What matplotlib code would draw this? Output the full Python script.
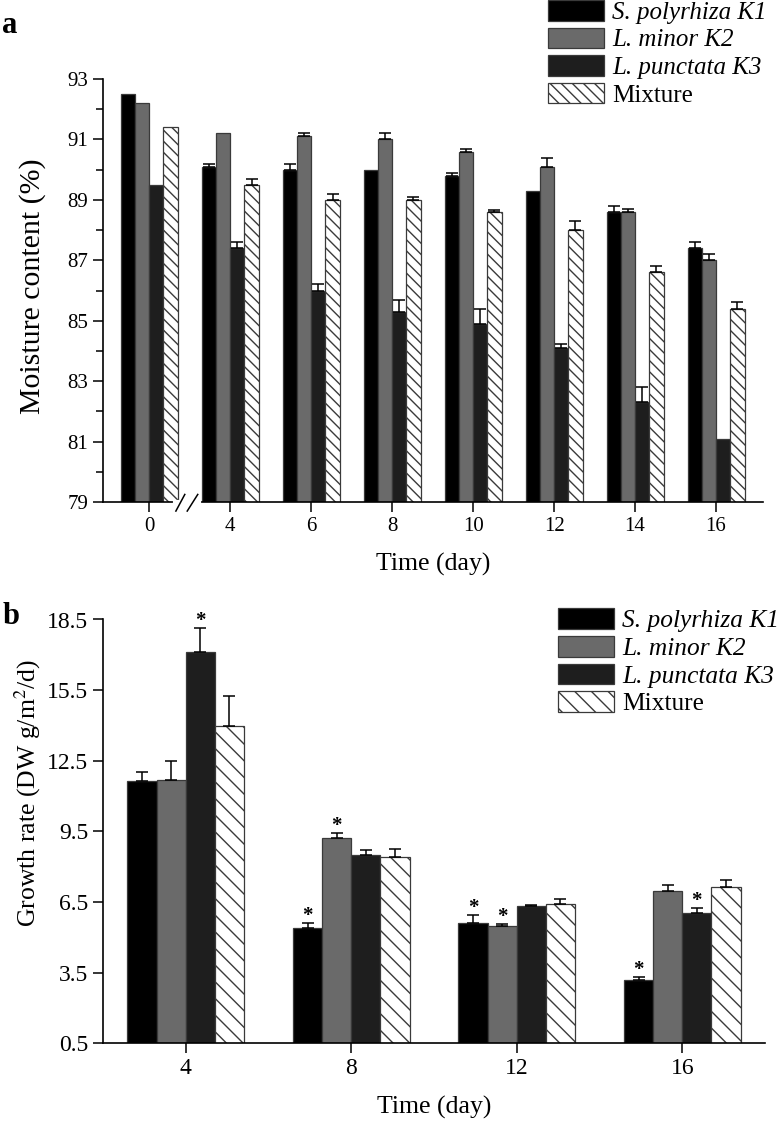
"""
Moisture content and growth rate of three duckweed strains and their mixture,
drawn as grouped bar charts with one-sided error bars.
"""

import numpy as np
import matplotlib.pyplot as plt
from matplotlib.ticker import MultipleLocator

plt.rcParams['font.family'] = ['Liberation Serif', 'DejaVu Serif']
plt.rcParams['mathtext.fontset'] = 'stix'

SERIES = ['S. polyrhiza K1', 'L. minor K2', 'L. punctata K3', 'Mixture']

# panel a: moisture content (%)
days_a = ['0', '4', '6', '8', '10', '12', '14', '16']
moist_k1 = [92.5, 90.1, 90.0, 90.0, 89.8, 89.3, 88.6, 87.4]
moist_k2 = [92.2, 91.2, 91.1, 91.0, 90.6, 90.1, 88.6, 87.0]
moist_k3 = [89.5, 87.4, 86.0, 85.3, 84.9, 84.1, 82.3, 81.1]
moist_mix = [91.4, 89.5, 89.0, 89.0, 88.6, 88.0, 86.6, 85.4]
moist_err_k1 = [0.0, 0.1, 0.2, 0.0, 0.1, 0.0, 0.2, 0.2]
moist_err_k2 = [0.0, 0.0, 0.1, 0.2, 0.08, 0.3, 0.1, 0.2]
moist_err_k3 = [0.0, 0.2, 0.2, 0.4, 0.5, 0.12, 0.5, 0.0]
moist_err_mix = [0.0, 0.2, 0.2, 0.1, 0.08, 0.3, 0.2, 0.22]
moist_ticks = [79, 81, 83, 85, 87, 89, 91, 93]

# panel b: growth rate (DW g/m2/d)
days_b = ['4', '8', '12', '16']
growth_k1 = [11.65, 5.4, 5.63, 3.19]
growth_k2 = [11.7, 9.22, 5.47, 6.98]
growth_k3 = [17.13, 8.48, 6.34, 6.02]
growth_mix = [13.97, 8.41, 6.42, 7.12]
growth_err_k1 = [0.37, 0.2, 0.33, 0.11]
growth_err_k2 = [0.77, 0.2, 0.11, 0.26]
growth_err_k3 = [1.0, 0.21, 0.05, 0.21]
growth_err_mix = [1.28, 0.36, 0.21, 0.31]
growth_ticks = [0.5, 3.5, 6.5, 9.5, 12.5, 15.5, 18.5]
# (series index, group index) pairs marked with an asterisk
stars_b = [(2, 0), (0, 1), (1, 1), (0, 2), (1, 2), (0, 3), (2, 3)]

FILLS = ['#000000', '#6a6a6a', '#1e1e1e', 'white']
EDGE = '#3a3a3a'
BAR_W = 0.176


def draw_bars(ax, n, values, errors, hatch):
    x = np.arange(n)
    tops = []
    for i, (vals, errs) in enumerate(zip(values, errors)):
        pos = x + (i - 1.5) * BAR_W
        ax.bar(pos, vals, BAR_W, color=FILLS[i], edgecolor=EDGE, linewidth=0.9,
               hatch=hatch if i == 3 else None, label=SERIES[i], zorder=2)
        vals = np.asarray(vals)
        errs = np.asarray(errs)
        keep = errs > 0
        ax.errorbar(pos[keep], vals[keep], yerr=[np.zeros(keep.sum()), errs[keep]],
                    fmt='none', ecolor='black', elinewidth=1.1, capsize=4.5,
                    capthick=1.1, zorder=3)
        tops.append((pos, vals + errs))
    return tops


def style_axes(ax):
    for side in ('top', 'right'):
        ax.spines[side].set_visible(False)
    for side in ('left', 'bottom'):
        ax.spines[side].set_linewidth(1.2)
    ax.tick_params(which='major', direction='out', length=7, width=1.1)
    ax.tick_params(which='minor', direction='out', length=5, width=1.1)


def add_legend(fig, handles, x, y, size):
    leg = fig.legend(handles=handles, labels=SERIES, loc='upper left',
                     bbox_to_anchor=(x, y), bbox_transform=fig.transFigure,
                     frameon=False, fontsize=size, borderpad=0, borderaxespad=0,
                     handlelength=2.25 * 18 / size, handleheight=0.9 * 18 / size,
                     handletextpad=0.32, labelspacing=0.14)
    for t in leg.get_texts()[:3]:
        t.set_fontstyle('italic')
    return leg


fig = plt.figure(figsize=(7.82, 11.26), dpi=100)

# ---------------- panel a ----------------
ax_a = fig.add_axes([103 / 782, 1 - 502 / 1126, 660 / 782, 423 / 1126])
draw_bars(ax_a, len(days_a), [moist_k1, moist_k2, moist_k3, moist_mix],
          [moist_err_k1, moist_err_k2, moist_err_k3, moist_err_mix], '\\\\\\')
style_axes(ax_a)
ax_a.set_ylim(79, 93)
ax_a.set_xlim(-0.57, 7.58)
ax_a.set_yticks(moist_ticks)
ax_a.yaxis.set_minor_locator(MultipleLocator(1))
ax_a.set_xticks(np.arange(len(days_a)))
ax_a.set_xticklabels(days_a)
ax_a.tick_params(labelsize=15)
ax_a.set_xlabel('Time (day)', fontsize=18.5)
ax_a.xaxis.set_label_coords(0.5, -0.12)
ax_a.xaxis.label.set_va('top')
ax_a.set_ylabel('Moisture content (%)', fontsize=21.5)
ax_a.yaxis.set_label_coords(-0.086, 0.51)

# axis break between day 0 and day 4
ax_a.plot([0.32, 0.62], [79, 79], color='white', lw=3, clip_on=False, zorder=5)
ax_a.plot([0.33, 0.44], [78.7, 79.25], color='black', lw=1.1, clip_on=False, zorder=6)
ax_a.plot([0.47, 0.60], [78.7, 79.25], color='black', lw=1.1, clip_on=False, zorder=6)

h_a, _ = ax_a.get_legend_handles_labels()
add_legend(fig, h_a, 548 / 782, 1.0, 18)
fig.text(0.003, 1 - 33 / 1126, 'a', fontsize=22, fontweight='bold', va='baseline')

# ---------------- panel b ----------------
ax_b = fig.add_axes([103 / 782, 1 - 1043.3 / 1126, 662 / 782, 423.8 / 1126])
tops_b = draw_bars(ax_b, len(days_b), [growth_k1, growth_k2, growth_k3, growth_mix],
                   [growth_err_k1, growth_err_k2, growth_err_k3, growth_err_mix], '\\\\')
style_axes(ax_b)
ax_b.set_ylim(0.5, 18.5)
ax_b.set_xlim(-0.5, 3.5)
ax_b.set_yticks(growth_ticks)
ax_b.set_xticks(np.arange(len(days_b)))
ax_b.set_xticklabels(days_b)
ax_b.tick_params(labelsize=17)
ax_b.set_xlabel('Time (day)', fontsize=18.5)
ax_b.xaxis.set_label_coords(0.5, -0.125)
ax_b.xaxis.label.set_va('top')
ax_b.set_ylabel('Growth rate (DW g/m$^2$/d)', fontsize=18.5)
ax_b.yaxis.set_label_coords(-0.09, 0.59)

for s, g in stars_b:
    pos, top = tops_b[s]
    ax_b.text(pos[g], top[g] + 0.3, '*', ha='center', va='center',
              fontsize=15, fontweight='bold', zorder=4)

h_b, _ = ax_b.get_legend_handles_labels()
add_legend(fig, h_b, 558 / 782, 1 - 608 / 1126, 18.3)
fig.text(0.003, 1 - 624 / 1126, 'b', fontsize=22, fontweight='bold', va='baseline')

fig.savefig('out.png', dpi=100)
